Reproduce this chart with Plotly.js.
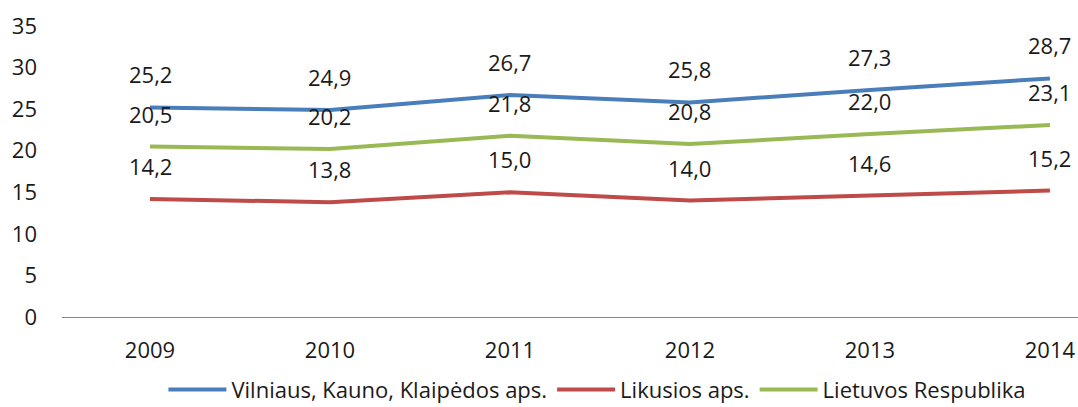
<!DOCTYPE html>
<html>
<head>
<meta charset="utf-8">
<script src="https://cdn.plot.ly/plotly-3.0.1.min.js"></script>
<style>html,body{margin:0;padding:0;overflow:hidden;background:#fff}</style>
</head>
<body>
<div id="chart" style="width:1078px;height:407px"></div>
<script>
const years = ["2009", "2010", "2011", "2012", "2013", "2014"];
const seriesNames = ["Vilniaus, Kauno, Klaipėdos aps.", "Likusios aps.", "Lietuvos Respublika"];
const vkk = [25.2, 24.9, 26.7, 25.8, 27.3, 28.7];
const likusios = [14.2, 13.8, 15.0, 14.0, 14.6, 15.2];
const lr = [20.5, 20.2, 21.8, 20.8, 22.0, 23.1];
const yTicks = [0, 5, 10, 15, 20, 25, 30, 35];

const colors = ["#4A7EBB", "#BE4B48", "#98B954"];
const allSeries = [vkk, likusios, lr];
const FONT = "Open Sans, Noto Sans, sans-serif";
const xIdx = years.map((_, i) => i);

const traces = allSeries.map((vals, k) => ({
  x: xIdx, y: vals, type: "scatter", mode: "lines", name: seriesNames[k],
  line: {color: colors[k], width: 4}, hoverinfo: "skip"
}));

const annotations = [];
allSeries.forEach(vals => {
  vals.forEach((v, i) => {
    annotations.push({
      x: i, y: v, xref: "x", yref: "y", text: v.toFixed(1).replace(".", ","),
      showarrow: false, yshift: 33, font: {family: FONT, size: 22, color: "#1a1a1a"}
    });
  });
});

const layout = {
  width: 1078, height: 407,
  margin: {l: 62, r: 0, t: 26, b: 90, autoexpand: false},
  paper_bgcolor: "#fff", plot_bgcolor: "#fff",
  showlegend: true,
  legend: {orientation: "h", x: 0.527, xanchor: "center", y: -0.25, yanchor: "middle",
           itemwidth: 58, tracegroupgap: 0,
           font: {family: FONT, size: 22, color: "#1a1a1a"}, traceorder: "normal"},
  xaxis: {range: [-0.489, 5.156], tickvals: xIdx, ticktext: years, showgrid: false,
          zeroline: false, showline: true, linecolor: "#868686", linewidth: 1,
          ticks: "", ticklabelstandoff: 14, tickfont: {family: FONT, size: 22, color: "#1a1a1a"},
          fixedrange: true},
  yaxis: {range: [0, 35], tickvals: yTicks, ticktext: yTicks.map(String), showgrid: false,
          zeroline: false, showline: false, ticks: "", ticklabelstandoff: 24,
          tickfont: {family: FONT, size: 22, color: "#1a1a1a"}, fixedrange: true},
  annotations: annotations
};

Plotly.newPlot("chart", traces, layout, {displayModeBar: false, staticPlot: true});
</script>
</body>
</html>
